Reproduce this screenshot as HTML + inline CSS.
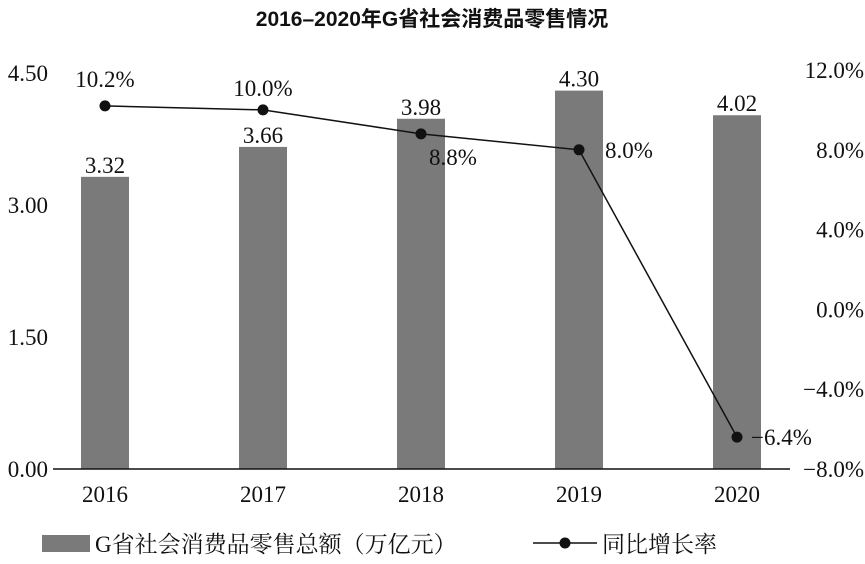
<!DOCTYPE html>
<html><head><meta charset="utf-8"><style>
body{margin:0;background:#fff}
svg text{font-family:"Liberation Serif","Noto Serif CJK SC",serif;font-size:23px;fill:#111}
</style></head><body>
<svg id="c" width="865" height="559" xmlns="http://www.w3.org/2000/svg">
<text x="432" y="26" text-anchor="middle" style="font-family:'Liberation Sans','Noto Sans CJK SC',sans-serif;font-weight:bold;font-size:21px">2016–2020年G省社会消费品零售情况</text>
<g id="g"></g>
<line x1="53" y1="469" x2="790" y2="469" stroke="#111" stroke-width="1.5"/>
<rect x="42" y="535" width="48" height="17" fill="#7a7a7a"/>
<text x="95" y="552">G省社会消费品零售总额（万亿元）</text>
<line x1="533" y1="543" x2="597" y2="543" stroke="#111" stroke-width="1.5"/>
<circle cx="565" cy="543" r="5.5" fill="#111"/>
<text x="602" y="552">同比增长率</text>
</svg>
<script>
const categories=["2016","2017","2018","2019","2020"];
const totals=[3.32,3.66,3.98,4.30,4.02];
const growth=[10.2,10.0,8.8,8.0,-6.4];
const leftTicks=[0,1.5,3,4.5];
const rightTicks=[-8,-4,0,4,8,12];
const NS="http://www.w3.org/2000/svg";
const g=document.getElementById('g');
const yL=v=>469-v*(396/4.5);
const yR=v=>469-(v+8)*(399/20);
const xC=i=>105+i*158;
function mk(t,a,txt){const e=document.createElementNS(NS,t);for(const k in a)e.setAttribute(k,a[k]);if(txt!=null)e.textContent=txt;g.appendChild(e);return e;}
leftTicks.forEach(v=>{const e=mk('text',{x:48,y:yL(v)+8,'text-anchor':'end'},v.toFixed(2));

});
rightTicks.forEach(v=>{const e=mk('text',{x:864,y:yR(v)+8,'text-anchor':'end'},(v<0?'−':'')+Math.abs(v).toFixed(1)+'%');

});
categories.forEach((c,i)=>{
const b=mk('rect',{x:xC(i)-24,y:yL(totals[i]),width:48,height:469-yL(totals[i]),fill:'#7a7a7a'});


const l=mk('text',{x:xC(i),y:yL(totals[i])-4,'text-anchor':'middle'},totals[i].toFixed(2));


const xl=mk('text',{x:xC(i),y:502,'text-anchor':'middle'},c);


});
const pl=mk('polyline',{points:growth.map((v,i)=>xC(i)+','+yR(v)).join(' '),fill:'none',stroke:'#111','stroke-width':1.5});


const off=[[0,-19,'middle'],[0,-14,'middle'],[8,31,'start'],[26,8,'start'],[14,8,'start']];
growth.forEach((v,i)=>{
const p=mk('circle',{cx:xC(i),cy:yR(v),r:5.5,fill:'#111'});


const o=off[i];
const t=mk('text',{x:xC(i)+o[0],y:yR(v)+o[1],'text-anchor':o[2]},(v<0?'−':'')+Math.abs(v).toFixed(1)+'%');


});
</script>
</body></html>
